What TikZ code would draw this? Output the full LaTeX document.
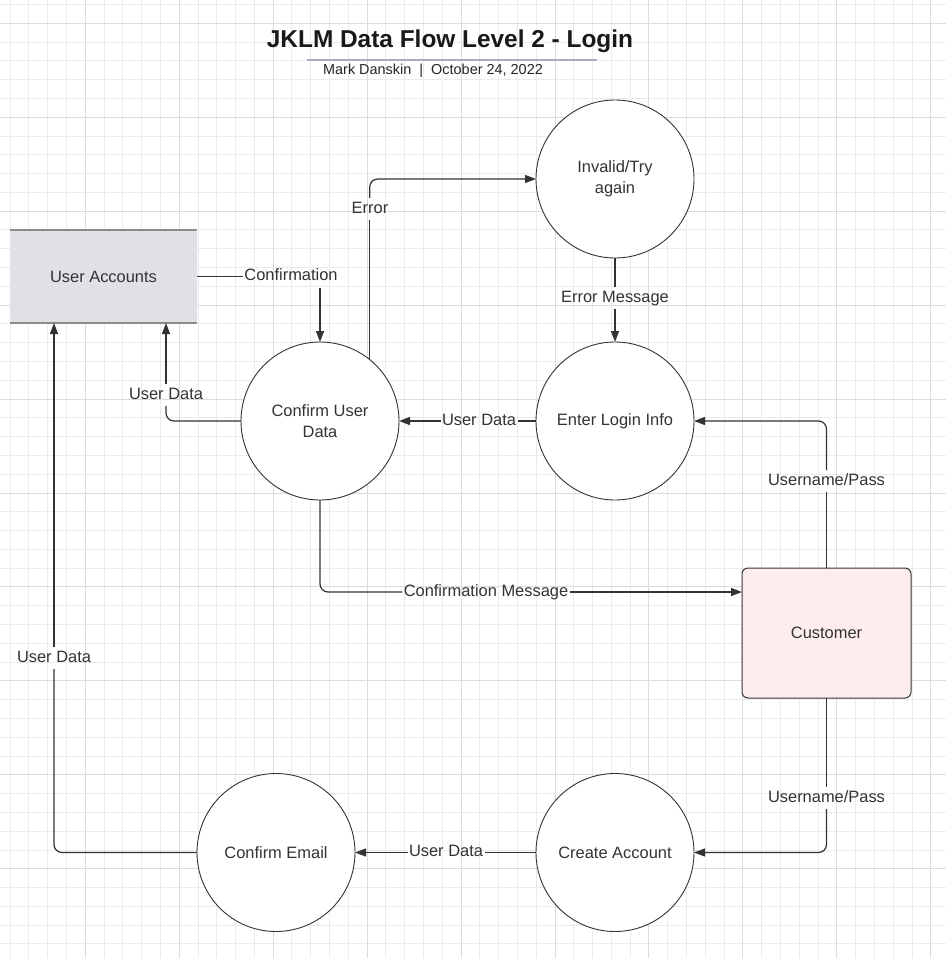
\documentclass[tikz,border=0pt]{standalone}
\usepackage{fontspec}
\setmainfont{Liberation Sans}
\usetikzlibrary{arrows.meta}
\definecolor{ink}{HTML}{333333}
\definecolor{gridminor}{HTML}{EBEBEB}
\definecolor{gridmajor}{HTML}{DCDCDC}
\definecolor{storefill}{HTML}{DFE1E6}
\definecolor{storeline}{HTML}{8A8A8A}
\definecolor{custfill}{HTML}{FDEEED}
\definecolor{underline}{HTML}{A9ACC0}
\begin{document}
\begin{tikzpicture}[x=1bp,y=-1bp,
  proc/.style={circle, draw=ink, fill=white, line width=0.9bp, minimum size=158bp, inner sep=0pt, outer sep=0pt, align=center, font=\fontsize{16.5}{21}\selectfont, text=ink},
  lbl/.style={inner xsep=1.5bp, inner ysep=3bp, outer sep=0pt, font=\fontsize{16.5}{20}\selectfont, text=ink, text height=12bp, text depth=4bp},
  flow/.style={draw=ink, line width=1.2bp},
  arr/.style={flow, -{Triangle[length=11bp,width=8bp]}},
  rc/.style={rounded corners=8bp},
  gmin/.style={draw=gridminor, line width=1bp},
  gmaj/.style={draw=gridmajor, line width=1bp}]
\useasboundingbox (0,0) rectangle (946,958);
\fill[white] (0,0) rectangle (946,958);
% grid
\foreach \i in {0,...,49} {\pgfmathsetmacro\gx{floor(10.14+18.79*\i)+0.5}
  \draw[gmin] (\gx,0) -- (\gx,958);}
\foreach \j in {0,...,50} {\pgfmathsetmacro\gy{floor(4.5+18.79*\j)+0.5}
  \draw[gmin] (0,\gy) -- (946,\gy);}
\foreach \k in {0,...,9} {\pgfmathsetmacro\gx{floor(85.3+93.95*\k)+0.5}
  \draw[gmaj] (\gx,0) -- (\gx,958);}
\foreach \k in {0,...,9} {\pgfmathsetmacro\gy{floor(23.3+93.95*\k)+0.5}
  \draw[gmaj] (0,\gy) -- (946,\gy);}
% title
\node[text=black!90, font=\fontsize{24.5}{28}\selectfont\bfseries] (title) at (450,41) {JKLM Data Flow Level 2 - Login};
\coordinate (ulL) at (307,60);
\coordinate (ulR) at (597,60);
\draw[underline, line width=1.8bp] (ulL) -- (ulR);
\node[text=black!85, font=\fontsize{14.5}{17}\selectfont] (sub) at (433,71) {Mark Danskin\ \ |\ \ October 24, 2022};
% shapes
\node[rectangle, fill=storefill, minimum width=187bp, minimum height=93bp, rounded corners=3bp, inner sep=0pt, outer sep=0pt, text=ink, font=\fontsize{16.5}{20}\selectfont] (ua) at (103.5,276.5) {User Accounts};
\draw[storeline, line width=2bp] (ua.north west) -- (ua.north east);
\draw[storeline, line width=2bp] (ua.south west) -- (ua.south east);
\node[rectangle, draw=ink, fill=custfill, line width=1bp, minimum width=169bp, minimum height=130bp, rounded corners=6bp, inner sep=0pt, outer sep=0pt, text=ink, font=\fontsize{16.5}{20}\selectfont] (cust) at (826.5,633) {Customer};
\node[proc] (inv) at (615,179) {Invalid/Try\\again};
\node[proc] (eli) at (615,421) {Enter Login Info};
\node[proc] (cud) at (320,421) {Confirm User\\Data};
\node[proc] (ca) at (615,852.5) {Create Account};
\node[proc] (ce) at (276,852.5) {Confirm Email};
% labels
\node[lbl] (conf) at (291,276.5) {Confirmation};
\node[lbl] (err) at (370,209) {Error};
\node[lbl] (em) at (615,298) {Error Message};
\node[lbl] (udm) at (479,421) {User Data};
\node[lbl] (udl) at (166,395) {User Data};
\node[lbl] (cm) at (486,592) {Confirmation Message};
\node[lbl] (up1) at (826.5,481) {Username/Pass};
\node[lbl] (up2) at (826.5,798) {Username/Pass};
\node[lbl] (udb) at (446,852.5) {User Data};
\node[lbl] (udf) at (54,658) {User Data};
% connectors
\draw[flow] (ua.east) -- (conf.west);
\draw[arr] (cud.north |- conf.south) -- (cud.north);
\draw[flow] (cud.51) -- (cud.51 |- err.south);
\draw[arr, rc] (cud.51 |- err.north) |- (inv.west);
\draw[flow] (inv.south) -- (em.north);
\draw[arr] (em.south) -- (eli.north);
\draw[flow] (eli.west) -- (udm.east);
\draw[arr] (udm.west) -- (cud.east);
\draw[flow, rc] (cud.west) -| (udl.south);
\draw[arr] (udl.north) -- (udl.north |- ua.south);
\draw[flow, rc] (cud.south) |- (cm.west);
\draw[arr] (cm.east) -- (cm.east -| cust.west);
\draw[flow] (cust.north) -- (up1.south);
\draw[arr, rc] (up1.north) |- (eli.east);
\draw[flow] (cust.south) -- (up2.north);
\draw[arr, rc] (up2.south) |- (ca.east);
\draw[flow] (ca.west) -- (udb.east);
\draw[arr] (udb.west) -- (ce.east);
\draw[flow, rc] (ce.west) -| (udf.south);
\draw[arr] (udf.north) -- (udf.north |- ua.south);
\end{tikzpicture}
\end{document}
